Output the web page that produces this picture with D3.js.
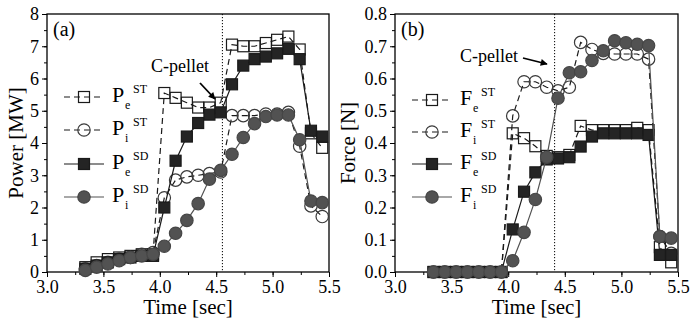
<!DOCTYPE html>
<html>
<head>
<meta charset="utf-8">
<script src="https://cdn.jsdelivr.net/npm/d3@7"></script>
<style>
  body { margin: 0; background: #fff; }
  svg { display: block; font-family: "Liberation Serif", "Times New Roman", serif; }
</style>
</head>
<body>
<div id="chart"></div>
<script>
// time samples (sec), shared by both panels
const times = [3.34, 3.44, 3.54, 3.64, 3.74, 3.84, 3.94, 4.04, 4.14, 4.24, 4.34,
  4.44, 4.54, 4.64, 4.74, 4.84, 4.94, 5.04, 5.14, 5.24, 5.34, 5.44];

// panel (a) power [MW]
const powerEST = [0.15, 0.3, 0.4, 0.45, 0.5, 0.55, 0.55, 5.55, 5.4, 5.25, 5.1,
  5.1, 5.25, 7.05, 7.0, 7.0, 7.1, 7.2, 7.3, 6.9, 4.3, 3.85];
const powerIST = [0.1, 0.2, 0.3, 0.4, 0.45, 0.55, 0.6, 2.3, 2.85, 2.95, 3.0,
  3.05, 3.1, 4.85, 4.85, 4.85, 4.9, 4.9, 4.95, 3.9, 2.05, 1.72];
const powerESD = [0.1, 0.2, 0.3, 0.4, 0.45, 0.5, 0.5, 2.0, 3.45, 4.2, 4.62,
  4.88, 4.95, 5.82, 6.4, 6.6, 6.68, 6.78, 6.92, 6.6, 4.38, 4.2];
const powerISD = [0.05, 0.15, 0.25, 0.35, 0.45, 0.5, 0.55, 0.8, 1.2, 1.6, 2.12,
  2.88, 3.15, 3.65, 4.17, 4.6, 4.82, 4.87, 4.87, 4.1, 2.2, 2.15];

// panel (b) force [N]
const forceEST = [0, 0, 0, 0, 0, 0, 0, 0.43, 0.415, 0.39, 0.36,
  0.356, 0.363, 0.453, 0.44, 0.44, 0.44, 0.44, 0.447, 0.44, 0.077, 0.03];
const forceIST = [0, 0, 0, 0, 0, 0, 0, 0.484, 0.59, 0.59, 0.573,
  0.562, 0.573, 0.712, 0.69, 0.678, 0.676, 0.676, 0.676, 0.66, 0.11, 0.058];
const forceESD = [0, 0, 0, 0, 0, 0, 0, 0.132, 0.249, 0.309, 0.349,
  0.352, 0.356, 0.389, 0.42, 0.43, 0.43, 0.43, 0.43, 0.425, 0.053, 0.053];
const forceISD = [0, 0, 0, 0, 0, 0, 0, 0.035, 0.123, 0.225, 0.356,
  0.539, 0.618, 0.621, 0.656, 0.686, 0.717, 0.711, 0.706, 0.702, 0.11, 0.105];

// tick labels
const timeTicks = [3.0, 3.5, 4.0, 4.5, 5.0, 5.5];
const powerTicks = [0, 1, 2, 3, 4, 5, 6, 7, 8];
const forceTicks = [0.0, 0.1, 0.2, 0.3, 0.4, 0.5, 0.6, 0.7, 0.8];

// pellet injection times marked by dotted lines
const pelletTimeA = 4.555;
const pelletTimeB = 4.41;

const W = 690, H = 324;

const svg = d3
  .select("#chart")
  .append("svg")
  .attr("width", W)
  .attr("height", H);

svg.append("defs")
  .append("marker")
  .attr("id", "arrow")
  .attr("viewBox", "0 0 10 10")
  .attr("refX", 9)
  .attr("refY", 5)
  .attr("markerWidth", 10)
  .attr("markerHeight", 7)
  .attr("markerUnits", "userSpaceOnUse")
  .attr("orient", "auto")
  .append("path")
  .attr("d", "M0,0 L10,5 L0,10 Z")
  .attr("fill", "#000");

// style of each series: open/filled, marker shape, dashed/solid
const styles = {
  eST: { shape: "square", fill: "none", stroke: "#1a1a1a", line: "#1a1a1a", dash: "6,4" },
  iST: { shape: "circle", fill: "none", stroke: "#3a3a3a", line: "#1a1a1a", dash: "6,4" },
  eSD: { shape: "square", fill: "#242424", stroke: "#1a1a1a", line: "#1a1a1a", dash: null },
  iSD: { shape: "circle", fill: "#525252", stroke: "#464646", line: "#525252", dash: null }
};

function drawMarker(g, shape, cx, cy, st) {
  if (shape === "square") {
    g.append("rect")
      .attr("x", cx - 5.5)
      .attr("y", cy - 5.5)
      .attr("width", 11)
      .attr("height", 11)
      .attr("fill", st.fill)
      .attr("stroke", st.stroke)
      .attr("stroke-width", 1.2);
  } else {
    g.append("circle")
      .attr("cx", cx)
      .attr("cy", cy)
      .attr("r", 6.2)
      .attr("fill", st.fill)
      .attr("stroke", st.stroke)
      .attr("stroke-width", 1.2);
  }
}

function drawPanel(p) {
  const x = d3.scaleLinear().domain([3, 5.5]).range([p.left, p.right]);
  const y = d3.scaleLinear().domain(p.yDomain).range([272, 14]);
  const g = svg.append("g");

  // minor ticks
  g.append("g")
    .attr("transform", "translate(0,272)")
    .call(d3.axisBottom(x).tickValues(d3.range(3, 5.51, 0.25)).tickSize(3).tickFormat(""))
    .call(a => a.select(".domain").remove());
  g.append("g")
    .attr("transform", `translate(${p.left},0)`)
    .call(d3.axisLeft(y).tickValues(d3.range(0, p.yDomain[1] + 1e-9, p.yMinor)).tickSize(3).tickFormat(""))
    .call(a => a.select(".domain").remove());

  // major ticks with labels
  const xa = g.append("g")
    .attr("transform", "translate(0,272)")
    .call(d3.axisBottom(x).tickValues(timeTicks).tickSize(5).tickPadding(3).tickFormat(d3.format(".1f")));
  xa.attr("font-family", null).attr("font-size", null);
  xa.select(".domain").remove();
  xa.selectAll("text").attr("font-size", 18).attr("fill", "#000");

  const ya = g.append("g")
    .attr("transform", `translate(${p.left},0)`)
    .call(d3.axisLeft(y).tickValues(p.yTicks).tickSize(5).tickPadding(3).tickFormat(p.yFormat));
  ya.attr("font-family", null).attr("font-size", null);
  ya.select(".domain").remove();
  ya.selectAll("text").attr("font-size", 18).attr("fill", "#000");

  g.selectAll(".tick line").attr("stroke", "#000").attr("stroke-width", 1);

  // frame
  g.append("rect")
    .attr("x", p.left)
    .attr("y", 14)
    .attr("width", p.right - p.left)
    .attr("height", 258)
    .attr("fill", "none")
    .attr("stroke", "#000")
    .attr("stroke-width", 1.3);

  // axis titles
  g.append("text")
    .attr("x", (p.left + p.right) / 2)
    .attr("y", 314)
    .attr("text-anchor", "middle")
    .attr("font-size", 21)
    .text("Time [sec]");
  g.append("text")
    .attr("transform", `translate(${p.yTitleX},143) rotate(-90)`)
    .attr("text-anchor", "middle")
    .attr("font-size", 21)
    .text(p.yTitle);

  // panel label
  g.append("text")
    .attr("x", p.left + 6)
    .attr("y", 36)
    .attr("font-size", 20)
    .text(p.label);

  // pellet line
  g.append("line")
    .attr("x1", x(p.pellet))
    .attr("x2", x(p.pellet))
    .attr("y1", 14)
    .attr("y2", 272)
    .attr("stroke", "#000")
    .attr("stroke-width", 1)
    .attr("stroke-dasharray", "1.2,1.8");

  // series
  const line = d3.line().x((d, i) => x(times[i])).y(d => y(d));
  p.series.forEach(s => {
    const st = styles[s.key];
    g.append("path")
      .attr("d", line(s.values))
      .attr("fill", "none")
      .attr("stroke", st.line)
      .attr("stroke-width", 1.2)
      .attr("stroke-dasharray", st.dash);
    const mg = g.append("g");
    s.values.forEach((v, i) => drawMarker(mg, st.shape, x(times[i]), y(v), st));
  });

  // C-pellet annotation
  g.append("text")
    .attr("x", p.noteX)
    .attr("y", p.noteY)
    .attr("font-size", 18)
    .text("C-pellet");
  g.append("line")
    .attr("x1", p.arrow[0])
    .attr("y1", p.arrow[1])
    .attr("x2", p.arrow[2])
    .attr("y2", p.arrow[3])
    .attr("stroke", "#000")
    .attr("stroke-width", 1.8)
    .attr("marker-end", "url(#arrow)");

  // legend
  p.series.forEach((s, k) => {
    const st = styles[s.key];
    const ry = p.legendRows[k];
    g.append("line")
      .attr("x1", p.legendX)
      .attr("x2", p.legendX + 40)
      .attr("y1", ry)
      .attr("y2", ry)
      .attr("stroke", st.line)
      .attr("stroke-width", 1.2)
      .attr("stroke-dasharray", st.dash);
    drawMarker(g, st.shape, p.legendX + 20, ry, st);
    const tx = p.legendX + 48;
    g.append("text").attr("x", tx).attr("y", ry + 5).attr("font-size", 22).text(p.letter);
    g.append("text").attr("x", tx + 13).attr("y", ry + 12).attr("font-size", 12).text(s.sub);
    g.append("text").attr("x", tx + 21).attr("y", ry - 4).attr("font-size", 12).text(s.sup);
  });
}

drawPanel({
  left: 47, right: 329,
  yDomain: [0, 8], yTicks: powerTicks, yMinor: 0.5, yFormat: d3.format("d"),
  yTitle: "Power [MW]", yTitleX: 23, label: "(a)",
  pellet: pelletTimeA,
  noteX: 151, noteY: 72, arrow: [200, 83, 215, 99],
  legendX: 64, legendRows: [97, 130, 164, 197], letter: "P",
  series: [
    { key: "eST", values: powerEST, sub: "e", sup: "ST" },
    { key: "iST", values: powerIST, sub: "i", sup: "ST" },
    { key: "eSD", values: powerESD, sub: "e", sup: "SD" },
    { key: "iSD", values: powerISD, sub: "i", sup: "SD" }
  ]
});

drawPanel({
  left: 395, right: 678,
  yDomain: [0, 0.8], yTicks: forceTicks, yMinor: 0.05, yFormat: d3.format(".1f"),
  yTitle: "Force [N]", yTitleX: 355, label: "(b)",
  pellet: pelletTimeB,
  noteX: 460, noteY: 62, arrow: [523, 58, 547, 64],
  legendX: 412, legendRows: [100, 132, 164, 197], letter: "F",
  series: [
    { key: "eST", values: forceEST, sub: "e", sup: "ST" },
    { key: "iST", values: forceIST, sub: "i", sup: "ST" },
    { key: "eSD", values: forceESD, sub: "e", sup: "SD" },
    { key: "iSD", values: forceISD, sub: "i", sup: "SD" }
  ]
});
</script>
</body>
</html>
